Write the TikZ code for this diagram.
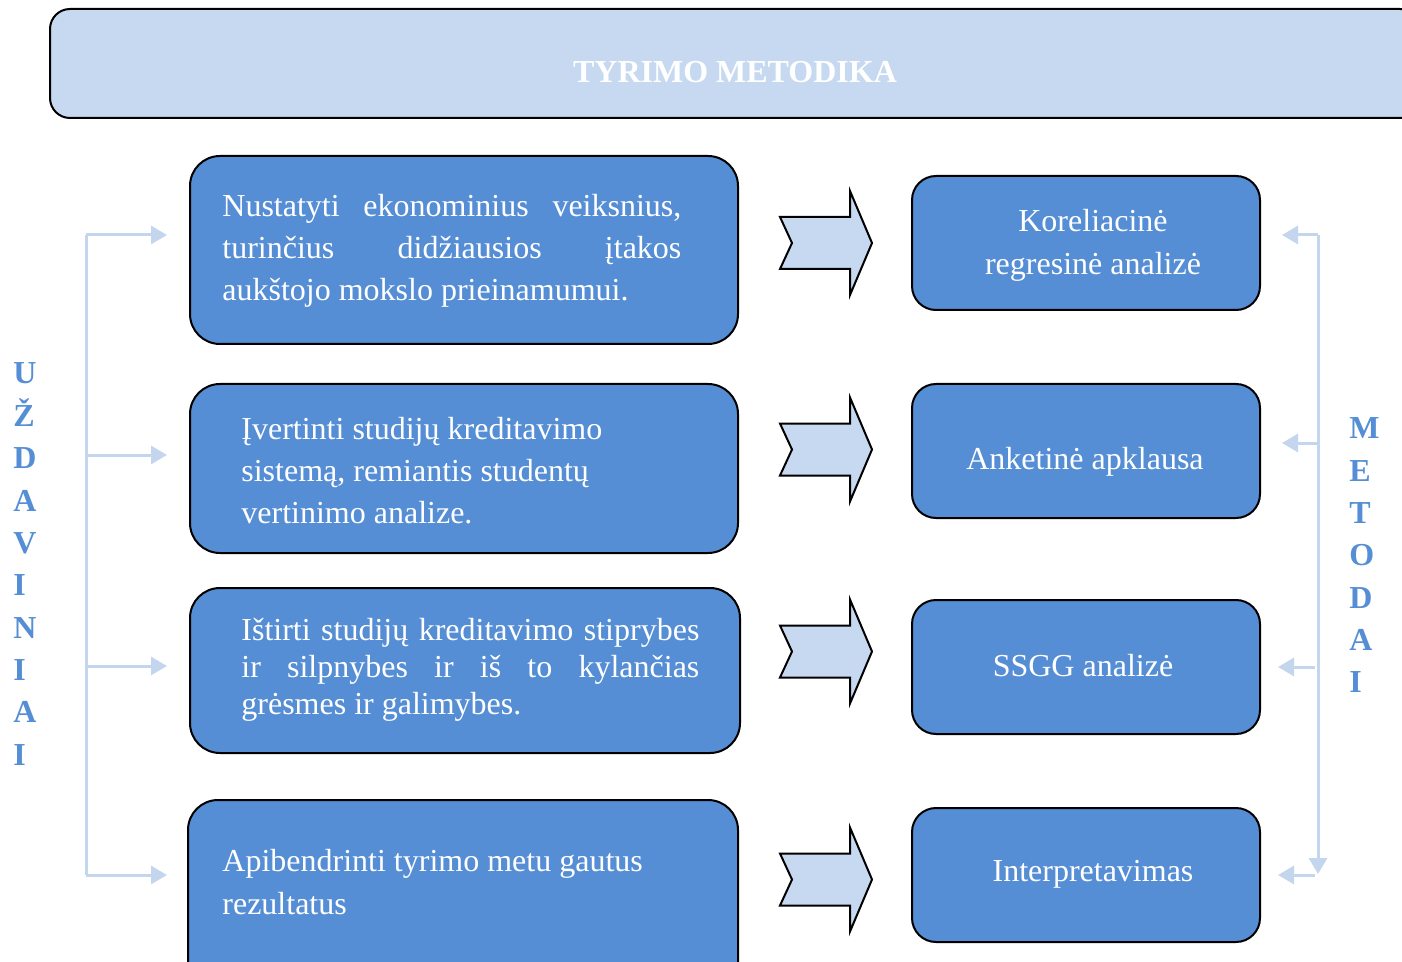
\documentclass[tikz,border=0pt]{standalone}
\usepackage{fontspec}
\setmainfont{Liberation Serif}
\usetikzlibrary{arrows.meta}
\definecolor{boxblue}{HTML}{558ED5}
\definecolor{paleblue}{HTML}{C6D9F1}
\definecolor{linkblue}{HTML}{C3D6EE}
\tikzset{
  bigbox/.style={draw=black,line width=1pt,fill=boxblue,rounded corners=15pt,minimum width=274pt,inner sep=0pt},
  rbox/.style={draw=black,line width=1pt,fill=boxblue,rounded corners=12pt,minimum width=174pt,minimum height=67pt,inner sep=0pt},
  txt/.style={text=white,font=\fontsize{16}{20}\selectfont,inner sep=0pt},
  letter/.style={text=boxblue,font=\fontsize{16}{20}\selectfont\bfseries,inner sep=0pt,anchor=base west},
  link/.style={draw=linkblue,line width=1.5pt},
  linkarrow/.style={link,-{Triangle[length=8pt,width=9pt]}},
  barrow/.style={draw=black,line width=1pt,fill=paleblue,line join=miter}
}
\begin{document}
\begin{tikzpicture}[x=0.5pt,y=-0.5pt]
\useasboundingbox (0,0) rectangle (1402,962);
\clip (0,0) rectangle (1402,962);
% title
\node[draw=black,line width=1pt,fill=paleblue,rounded corners=10pt,minimum width=685pt,minimum height=54.5pt,inner sep=0pt] (title) at (735,63.5) {};
\node[text=white,font=\fontsize{16}{20}\selectfont\bfseries,inner sep=0pt] (titletxt) at (735,72) {TYRIMO METODIKA};
% left boxes
\node[bigbox,minimum height=94pt] (b1) at (464,250) {};
\node[bigbox,minimum height=84.5pt] (b2) at (464,468.5) {};
\node[bigbox,minimum width=275pt,minimum height=82.5pt] (b3) at (465,670.5) {};
\node[bigbox,minimum width=275pt,minimum height=97.5pt] (b4) at (463,897.5) {};
% right boxes
\node[rbox] (r1) at (1086,243) {};
\node[rbox] (r2) at (1086,451) {};
\node[rbox] (r3) at (1086,667) {};
\node[rbox] (r4) at (1086,875) {};
% box texts
\node[txt,anchor=base west] (t1a) at (222,217) {\makebox[229.5pt][s]{Nustatyti ekonominius veiksnius,}};
\node[txt,anchor=base west] (t1b) at (222,259) {\makebox[229.5pt][s]{turinčius didžiausios įtakos}};
\node[txt,anchor=base west] (t1c) at (222,301) {aukštojo mokslo prieinamumui.};
\node[txt,anchor=base west] (t2a) at (241,439) {Įvertinti studijų kreditavimo};
\node[txt,anchor=base west] (t2b) at (241,481) {sistemą, remiantis studentų};
\node[txt,anchor=base west] (t2c) at (241,523) {vertinimo analize.};
\node[txt,anchor=base west] (t3a) at (241,640) {\makebox[229pt][s]{Ištirti studijų kreditavimo stiprybes}};
\node[txt,anchor=base west] (t3b) at (241,677) {\makebox[229pt][s]{ir silpnybes ir iš to kylančias}};
\node[txt,anchor=base west] (t3c) at (241,714) {grėsmes ir galimybes.};
\node[txt,anchor=base west] (t4a) at (222,871) {Apibendrinti tyrimo metu gautus};
\node[txt,anchor=base west] (t4b) at (222,914) {rezultatus};
\node[txt,anchor=base] (s1a) at (1093,232) {Koreliacinė};
\node[txt,anchor=base] (s1b) at (1093,275) {regresinė analizė};
\node[txt,anchor=base] (s2) at (1085,469) {Anketinė apklausa};
\node[txt,anchor=base] (s3) at (1083,676) {SSGG analizė};
\node[txt,anchor=base] (s4) at (1093,881) {Interpretavimas};
% block arrows
\foreach \c/\n in {243/a1,449.5/a2,651.5/a3,879.5/a4}{
  \draw[barrow] (780,\c-26) -- (850,\c-26) -- (850,\c-52) -- (872,\c) -- (850,\c+52) -- (850,\c+26) -- (780,\c+26) -- (792,\c) -- cycle;
}
% left bracket
\coordinate (l1) at (86,235);
\coordinate (l2) at (86,455);
\coordinate (l3) at (86,666);
\coordinate (l4) at (86,875);
\coordinate (lt1) at (167,235);
\coordinate (lt2) at (167,455);
\coordinate (lt3) at (167,666);
\coordinate (lt4) at (167,875);
\draw[link] (l1) -- (l4);
\draw[linkarrow] (l1) -- (lt1);
\draw[linkarrow] (l2) -- (lt2);
\draw[linkarrow] (l3) -- (lt3);
\draw[linkarrow] (l4) -- (lt4);
% right bracket
\coordinate (m1) at (1318,235);
\coordinate (m2) at (1318,443);
\coordinate (m3) at (1315,667);
\coordinate (m4) at (1315,875);
\coordinate (mb) at (1318,874);
\coordinate (mt1) at (1282,235);
\coordinate (mt2) at (1282,443);
\coordinate (mt3) at (1278,667);
\coordinate (mt4) at (1278,875);
\draw[linkarrow] (m1) -- (mb);
\draw[linkarrow] (m1) -- (mt1);
\draw[linkarrow] (m2) -- (mt2);
\draw[linkarrow] (m3) -- (mt3);
\draw[linkarrow] (m4) -- (mt4);
% vertical words
\node[letter] (u1) at (13,384) {U};
\node[letter] (u2) at (13,426.3) {Ž};
\node[letter] (u3) at (13,468.6) {D};
\node[letter] (u4) at (13,511) {A};
\node[letter] (u5) at (13,553) {V};
\node[letter] (u6) at (13,595.5) {I};
\node[letter] (u7) at (13,638) {N};
\node[letter] (u8) at (13,680) {I};
\node[letter] (u9) at (13,722) {A};
\node[letter] (u10) at (13,765) {I};
\node[letter] (v1) at (1349,438) {M};
\node[letter] (v2) at (1349,481) {E};
\node[letter] (v3) at (1349,523) {T};
\node[letter] (v4) at (1349,565) {O};
\node[letter] (v5) at (1349,608) {D};
\node[letter] (v6) at (1349,650) {A};
\node[letter] (v7) at (1349,692) {I};
\end{tikzpicture}
\end{document}
